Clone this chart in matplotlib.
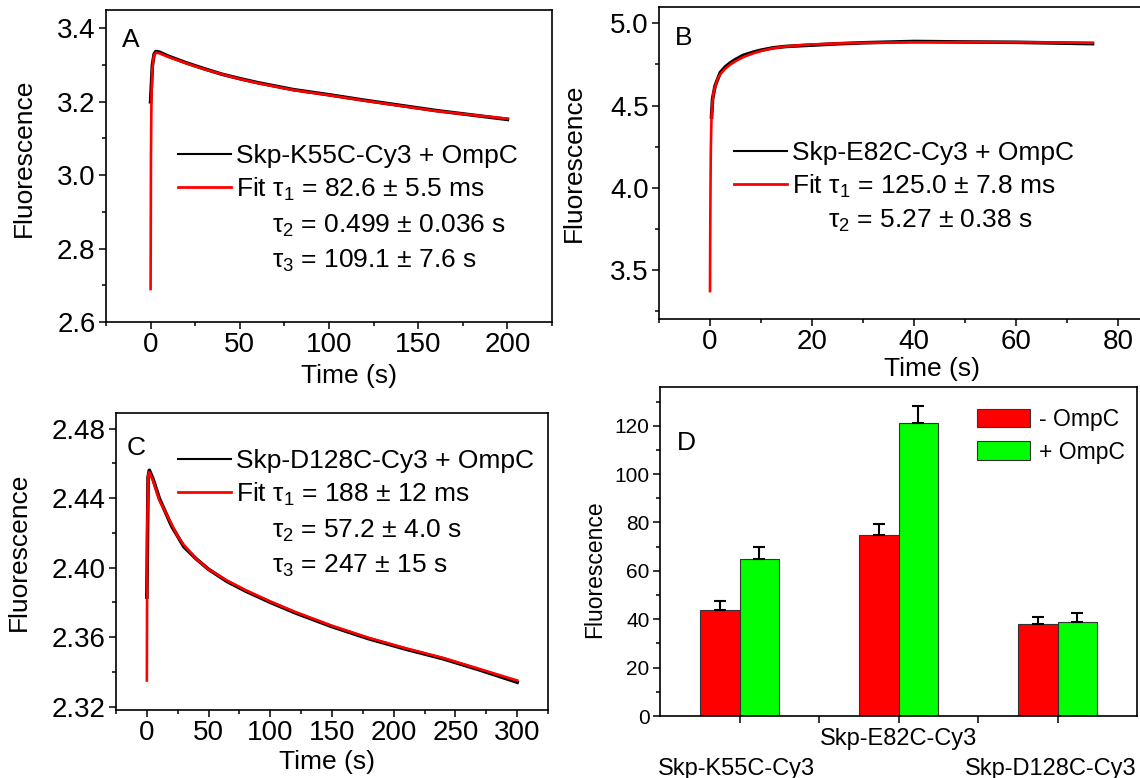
import numpy as np
import matplotlib
matplotlib.use('Agg')
import matplotlib.pyplot as plt
from matplotlib.ticker import MultipleLocator, FixedLocator, FormatStrFormatter
from matplotlib.transforms import ScaledTranslation

plt.rcParams['font.family'] = ['Liberation Sans', 'DejaVu Sans']
plt.rcParams['mathtext.fontset'] = 'custom'
plt.rcParams['mathtext.rm'] = 'Liberation Sans'
plt.rcParams['mathtext.it'] = 'Liberation Sans'
plt.rcParams['mathtext.bf'] = 'Liberation Sans:bold'

# ---- panel A : Skp-K55C-Cy3 + OmpC ----
tA_fit = [0, 0.2, 0.5, 1, 1.5, 2, 3, 5, 10, 20, 30, 40, 50, 60, 80, 100, 120, 140, 160, 180, 200]
fA_fit = [2.69, 3.05, 3.22, 3.29, 3.315, 3.327, 3.334, 3.332, 3.322, 3.305, 3.289, 3.275, 3.262,
          3.251, 3.232, 3.218, 3.203, 3.189, 3.175, 3.164, 3.154]
tA_dat = [0, 1, 2, 3, 5, 10, 20, 30, 40, 50, 60, 80, 100, 120, 140, 160, 180, 200]
fA_dat = [3.20, 3.30, 3.330, 3.337, 3.335, 3.324, 3.306, 3.290, 3.275, 3.263, 3.252, 3.233,
          3.219, 3.204, 3.190, 3.176, 3.164, 3.152]

# ---- panel B : Skp-E82C-Cy3 + OmpC ----
tB_fit = [0, 0.05, 0.1, 0.15, 0.2, 0.3, 0.5, 0.7, 1, 1.5, 2, 3, 4, 5, 6.5, 8.5, 10, 12.5, 15,
          17.5, 20, 25, 30, 40, 50, 60, 75]
fB_fit = [3.37, 3.75, 4.0, 4.2, 4.3, 4.43, 4.53, 4.58, 4.615, 4.66, 4.69, 4.725, 4.75, 4.77,
          4.795, 4.818, 4.832, 4.85, 4.86, 4.867, 4.872, 4.878, 4.882, 4.885, 4.886, 4.885, 4.882]
tB_dat = [0.3, 0.5, 1, 2, 3, 4, 5, 6.5, 8.5, 10, 12.5, 15, 20, 25, 30, 40, 50, 60, 75]
fB_dat = [4.43, 4.54, 4.62, 4.70, 4.735, 4.76, 4.78, 4.805, 4.825, 4.837, 4.852, 4.86, 4.868,
          4.876, 4.882, 4.890, 4.887, 4.885, 4.877]

# ---- panel C : Skp-D128C-Cy3 + OmpC ----
tC_fit = [0, 0.3, 1, 2, 5, 10, 15, 20, 25, 30, 40, 50, 65, 80, 100, 120, 150, 180, 210, 240, 270, 300]
fC_fit = [2.335, 2.42, 2.453, 2.455, 2.450, 2.439, 2.432, 2.425, 2.418, 2.413, 2.405, 2.399, 2.3925,
          2.387, 2.3805, 2.3745, 2.3665, 2.3595, 2.3535, 2.348, 2.3415, 2.335]
tC_dat = [0, 1, 2, 5, 10, 15, 20, 25, 30, 40, 50, 65, 80, 100, 120, 150, 180, 210, 240, 270, 300]
fC_dat = [2.383, 2.452, 2.456, 2.451, 2.440, 2.432, 2.424, 2.418, 2.412, 2.405, 2.399, 2.392, 2.3865,
          2.380, 2.374, 2.366, 2.359, 2.353, 2.3475, 2.341, 2.334]

# ---- panel D : bars ----
mutants = ['Skp-K55C-Cy3', 'Skp-E82C-Cy3', 'Skp-D128C-Cy3']
minus_ompc = [44, 75, 38]
minus_err = [3.5, 4.5, 3.0]
plus_ompc = [65, 121, 39]
plus_err = [5.0, 7.0, 3.5]

W, H = 1140, 778
fig = plt.figure(figsize=(W / 100, H / 100), dpi=100)


def box(l, r, t, b):
    return [l / W, 1 - b / H, (r - l) / W, (b - t) / H]


def style(ax, fs):
    for s in ax.spines.values():
        s.set_linewidth(1.2)
    ax.tick_params(which='both', direction='out', top=False, right=False, width=1.1, labelsize=fs, pad=2.5)
    ax.tick_params(which='major', length=5)
    ax.tick_params(which='minor', length=3)


def kinetic(ax, t_d, f_d, t_f, f_f, name, taus, leg_xy, tau_x, tau_y, fs=19):
    ax.plot(t_d, f_d, color='black', lw=2.6, label=name)
    ax.plot(t_f, f_f, color='#ff0000', lw=1.9, label=taus[0])
    leg = ax.legend(loc='upper left', bbox_to_anchor=leg_xy, frameon=False, fontsize=fs,
                    handlelength=2.0, handletextpad=0.2, labelspacing=0.27, borderpad=0, borderaxespad=0)
    leg.get_lines()[0].set_linewidth(1.5)
    leg.get_lines()[1].set_linewidth(2.0)
    for txt, y in zip(taus[1:], tau_y):
        ax.text(tau_x, y, txt, transform=ax.transAxes, fontsize=fs, va='center', ha='left')


# Panel A
axA = fig.add_axes(box(106, 552, 10, 322))
kinetic(axA, tA_dat, fA_dat, tA_fit, fA_fit, 'Skp-K55C-Cy3 + OmpC',
        ['Fit $\\tau_1$ = 82.6 ± 5.5 ms', '$\\tau_2$ = 0.499 ± 0.036 s', '$\\tau_3$ = 109.1 ± 7.6 s'],
        (0.161, 0.569), 0.373, [0.307, 0.195])
axA.set_xlim(-25, 225)
axA.set_ylim(2.6, 3.45)
axA.xaxis.set_major_locator(MultipleLocator(50))
axA.xaxis.set_minor_locator(MultipleLocator(25))
axA.yaxis.set_major_locator(MultipleLocator(0.2))
axA.yaxis.set_minor_locator(MultipleLocator(0.1))
axA.yaxis.set_major_formatter(FormatStrFormatter('%.1f'))
style(axA, 20)
axA.set_xlabel('Time (s)', fontsize=19)
axA.set_ylabel('Fluorescence', fontsize=19)
axA.xaxis.set_label_coords(0.545, -0.135)
axA.yaxis.set_label_coords(-0.157, 0.526)
axA.text(0.056, 0.904, 'A', transform=axA.transAxes, fontsize=19, ha='center', va='center')

# Panel B
axB = fig.add_axes(box(659, 1142, 7, 319))
kinetic(axB, tB_dat, fB_dat, tB_fit, fB_fit, 'Skp-E82C-Cy3 + OmpC',
        ['Fit $\\tau_1$ = 125.0 ± 7.8 ms', '$\\tau_2$ = 5.27 ± 0.38 s'],
        (0.155, 0.569), 0.35, [0.314])
axB.set_xlim(-10, 84.7)
axB.set_ylim(3.2, 5.1)
axB.xaxis.set_major_locator(MultipleLocator(20))
axB.xaxis.set_minor_locator(MultipleLocator(10))
axB.yaxis.set_major_locator(MultipleLocator(0.5))
axB.yaxis.set_minor_locator(MultipleLocator(0.25))
axB.yaxis.set_major_formatter(FormatStrFormatter('%.1f'))
style(axB, 20)
axB.set_xlabel('Time (s)', fontsize=19)
axB.set_ylabel('Fluorescence', fontsize=19)
axB.xaxis.set_label_coords(0.565, -0.122)
axB.yaxis.set_label_coords(-0.151, 0.5)
axB.text(0.05, 0.9, 'B', transform=axB.transAxes, fontsize=19, ha='center', va='center')

# Panel C
axC = fig.add_axes(box(116, 548, 413, 710))
kinetic(axC, tC_dat, fC_dat, tC_fit, fC_fit, 'Skp-D128C-Cy3 + OmpC',
        ['Fit $\\tau_1$ = 188 ± 12 ms', '$\\tau_2$ = 57.2 ± 4.0 s', '$\\tau_3$ = 247 ± 15 s'],
        (0.1435, 0.878), 0.362, [0.603, 0.485])
axC.set_xlim(-25, 325)
axC.set_ylim(2.318, 2.489)
axC.xaxis.set_major_locator(MultipleLocator(50))
axC.xaxis.set_minor_locator(MultipleLocator(25))
axC.yaxis.set_major_locator(MultipleLocator(0.04))
axC.yaxis.set_minor_locator(MultipleLocator(0.02))
axC.yaxis.set_major_formatter(FormatStrFormatter('%.2f'))
style(axC, 20)
axC.set_xlabel('Time (s)', fontsize=19)
axC.set_ylabel('Fluorescence', fontsize=19)
axC.xaxis.set_label_coords(0.488, -0.135)
axC.yaxis.set_label_coords(-0.197, 0.532)
axC.text(0.046, 0.882, 'C', transform=axC.transAxes, fontsize=19, ha='center', va='center')

# Panel D
axD = fig.add_axes(box(660, 1137, 387, 716))
pos = np.arange(1, len(mutants) + 1)
bw = 0.25
axD.bar(pos - bw / 2, minus_ompc, bw, color='#ff0000', edgecolor='#333333', lw=0.8, label='- OmpC',
        yerr=[np.zeros(3), minus_err], capsize=4, error_kw=dict(elinewidth=1.5, capthick=1.5, ecolor='black'))
axD.bar(pos + bw / 2, plus_ompc, bw, color='#00ff00', edgecolor='#333333', lw=0.8, label='+ OmpC',
        yerr=[np.zeros(3), plus_err], capsize=4, error_kw=dict(elinewidth=1.5, capthick=1.5, ecolor='black'))
axD.set_xlim(0.5, 3.5)
axD.set_ylim(0, 136)
axD.yaxis.set_major_locator(MultipleLocator(20))
axD.yaxis.set_minor_locator(MultipleLocator(10))
axD.xaxis.set_major_locator(FixedLocator([1, 1.5, 2, 2.5, 3]))
axD.set_xticklabels([mutants[0], '', mutants[1], '', mutants[2]], fontsize=17)
style(axD, 15)
axD.tick_params(axis='x', labelsize=17, pad=4)
# stagger the outer group labels below the middle one
labels = axD.get_xticklabels()
for i, dx in ((0, -3), (4, -7)):
    labels[i].set_transform(labels[i].get_transform() + ScaledTranslation(dx / 100, -29 / 100, fig.dpi_scale_trans))
axD.set_ylabel('Fluorescence', fontsize=16.5)
axD.yaxis.set_label_coords(-0.113, 0.447)
axD.text(0.055, 0.83, 'D', transform=axD.transAxes, fontsize=19, ha='center', va='center')
axD.legend(loc='upper left', bbox_to_anchor=(0.665, 0.936), frameon=False, fontsize=16.5,
           handlelength=2.3, handleheight=0.87, handletextpad=0.4, labelspacing=0.42,
           borderpad=0, borderaxespad=0)

fig.savefig('out.png', dpi=100)
